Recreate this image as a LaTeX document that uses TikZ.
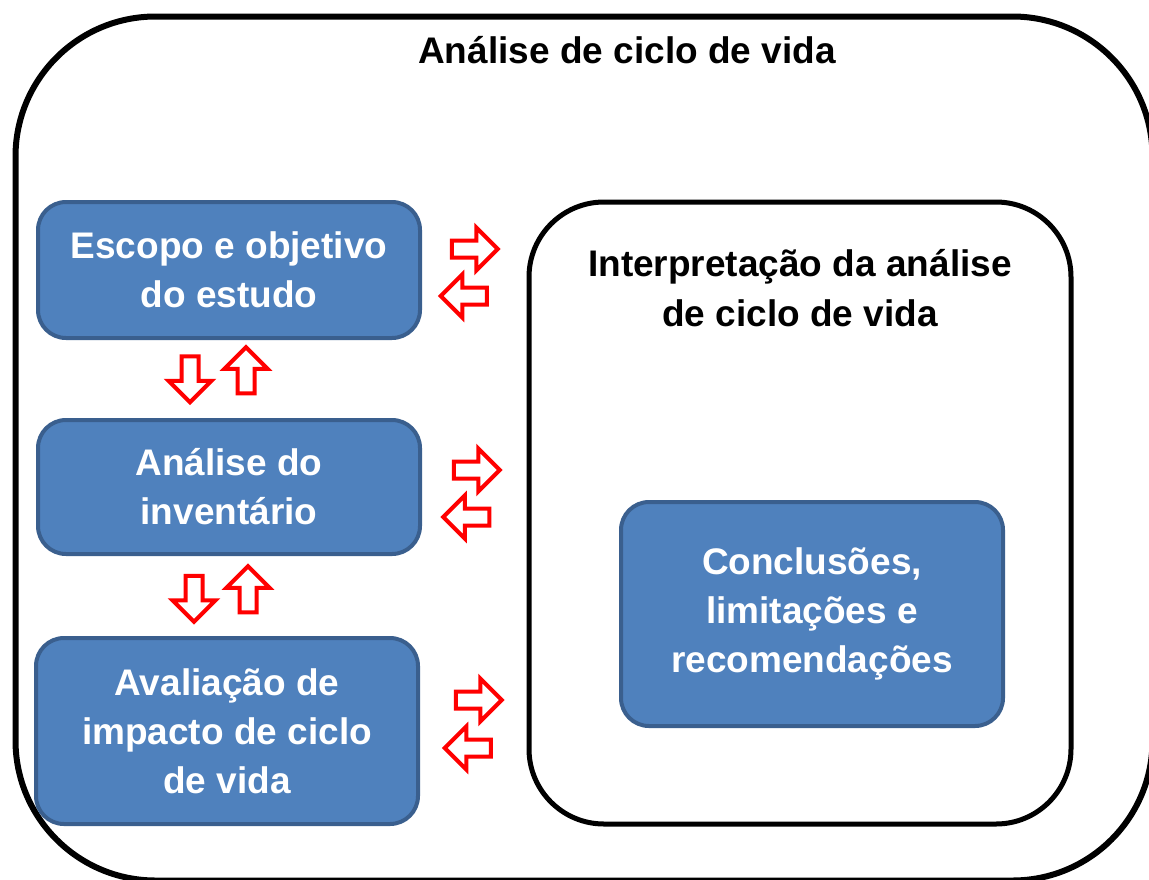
\documentclass[tikz,border=0pt]{standalone}
\usepackage{fontspec}
\setmainfont{Liberation Sans}
\usetikzlibrary{shapes.arrows}
\definecolor{boxfill}{HTML}{4F81BD}
\definecolor{boxline}{HTML}{3A5F8E}
\tikzset{
  bluebox/.style={draw=boxline, line width=4pt, fill=boxfill, rounded corners=28pt,
    text=white, font=\bfseries\fontsize{37}{49}\selectfont, align=center, inner sep=0pt},
  frame/.style={draw=black, rounded corners=#1, inner sep=0pt},
  blockarrow/.style={single arrow, draw=red, line width=4pt, fill=white,
    minimum height=46pt, minimum width=1pt, inner sep=6.5pt,
    single arrow head extend=13pt, shape border rotate=#1},
  label/.style={font=\bfseries\fontsize{37}{50}\selectfont, align=center, text=black}
}
\begin{document}
\begin{tikzpicture}[x=1pt,y=-1pt]
\useasboundingbox (0,0) rectangle (1149,879);
\clip (0,0) rectangle (1149,879);
% outer frame
\node[frame=140pt, line width=6pt, minimum width=1137pt, minimum height=864pt] (outer) at (584,448.5) {};
\node[label] (title) at (627,50) {Análise de ciclo de vida};
% inner frame
\node[frame=75pt, line width=5pt, minimum width=542pt, minimum height=622pt] (inner) at (800,513) {};
\node[label] (interp) at (800,288) {Interpretação da análise\\de ciclo de vida};
% blue boxes
\node[bluebox, minimum width=382pt, minimum height=136pt] (escopo) at (229,270) {Escopo e objetivo\\do estudo};
\node[bluebox, minimum width=382pt, minimum height=134pt] (inv) at (229,487) {Análise do\\inventário};
\node[bluebox, minimum width=382pt, minimum height=186pt] (aval) at (227,731) {Avaliação de\\impacto de ciclo\\de vida};
\node[bluebox, minimum width=382pt, minimum height=224pt] (concl) at (812,614) {Conclusões,\\limitações e\\recomendações};
% horizontal arrows
\node[blockarrow=0] (r1) at (470.5,249) {};
\node[blockarrow=180] (l1) at (468,296) {};
\node[blockarrow=0] (r2) at (472.5,470) {};
\node[blockarrow=180] (l2) at (470.5,517) {};
\node[blockarrow=0] (r3) at (474.5,700) {};
\node[blockarrow=180] (l3) at (472,748) {};
% vertical arrows
\node[blockarrow=270] (d1) at (190,375) {};
\node[blockarrow=90] (u1) at (246,374.5) {};
\node[blockarrow=270] (d2) at (194,594.5) {};
\node[blockarrow=90] (u2) at (248,593.5) {};
\end{tikzpicture}
\end{document}
